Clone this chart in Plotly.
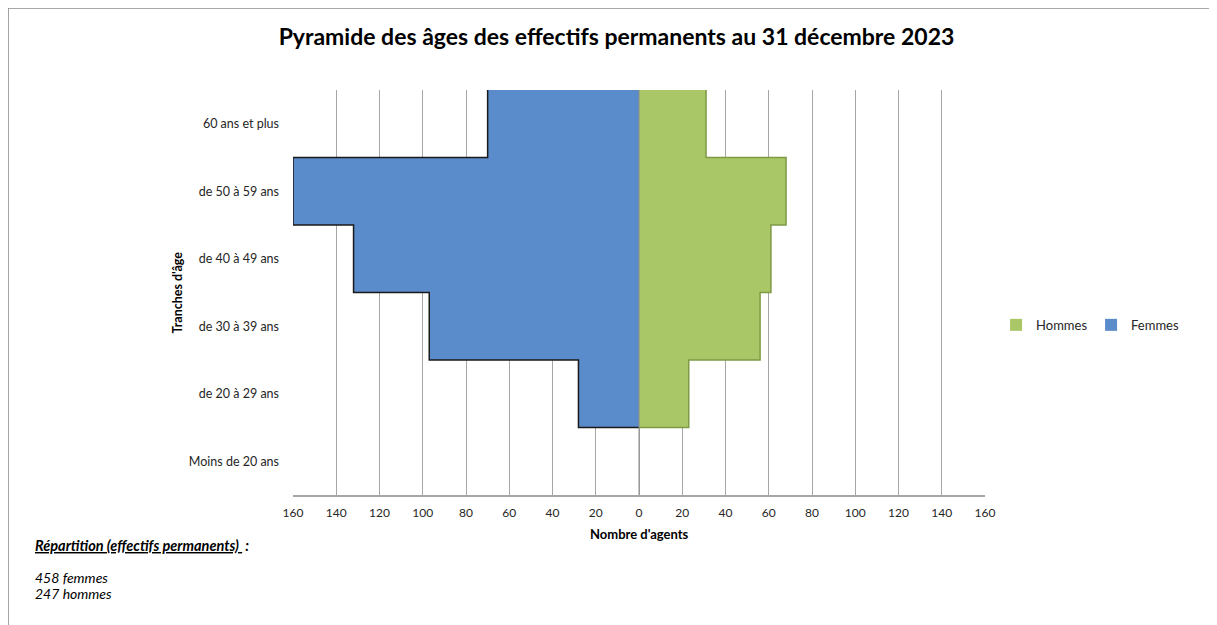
import plotly.graph_objects as go

# Données
tranches = ["Moins de 20 ans", "de 20 à 29 ans", "de 30 à 39 ans",
            "de 40 à 49 ans", "de 50 à 59 ans", "60 ans et plus"]
femmes = [0, 28, 97, 132, 160, 70]
hommes = [0, 23, 56, 61, 68, 31]
x_ticks = list(range(-160, 161, 20))
x_labels = [str(abs(v)) for v in x_ticks]

font_main = "Lato, 'Open Sans', sans-serif"
pos = list(range(len(tranches)))


def outline(values, sign):
    # contour en escalier du côté extérieur des barres
    first = next(i for i, v in enumerate(values) if v > 0)
    xs, ys = [0], [first - 0.5]
    for i in range(first, len(values)):
        xs += [sign * values[i], sign * values[i]]
        ys += [i - 0.5, i + 0.5]
    return xs, ys


fig = go.Figure()
fig.add_trace(go.Bar(y=pos, x=hommes, orientation="h", name="Hommes",
                     marker=dict(color="#A9C766", line_width=0)))
fig.add_trace(go.Bar(y=pos, x=[-v for v in femmes], orientation="h", name="Femmes",
                     marker=dict(color="#5A8BCA", line_width=0)))

hx, hy = outline(hommes, 1)
fig.add_trace(go.Scatter(x=hx, y=hy, mode="lines", showlegend=False, hoverinfo="skip",
                         line=dict(color="#7E9A45", width=1.5)))
fx, fy = outline(femmes, -1)
fig.add_trace(go.Scatter(x=fx, y=fy, mode="lines", showlegend=False, hoverinfo="skip",
                         line=dict(color="#1A1A1A", width=1.5)))

fig.update_layout(
    width=1217, height=625,
    margin=dict(l=285, r=240, t=82, b=138, autoexpand=False),
    paper_bgcolor="white", plot_bgcolor="white",
    barmode="overlay", bargap=0,
    font=dict(family=font_main, size=12, color="#262626"),
    title=dict(text="<b>Pyramide des âges des effectifs permanents au 31 décembre 2023</b>",
               x=0.5, xanchor="center", y=0.953, yanchor="middle",
               font=dict(family=font_main, size=23, color="#000000")),
    legend=dict(orientation="h", x=1.016, y=0.42, xanchor="left", yanchor="middle",
                entrywidth=50, font=dict(size=13, color="#262626"),
                itemwidth=30, traceorder="normal"),
    showlegend=True,
)

fig.update_xaxes(range=[-160, 160], tickvals=x_ticks, ticktext=x_labels,
                 showgrid=True, gridcolor="#A6A6A6", gridwidth=1,
                 zeroline=False, showline=True, linecolor="#A6A6A6", linewidth=1.5,
                 ticks="", ticklen=0, ticklabelstandoff=6, tickfont=dict(size=12),
                 automargin=False)
fig.update_yaxes(range=[-0.5, 5.5], tickvals=pos, ticktext=tranches,
                 showgrid=False, zeroline=False, showline=False,
                 ticks="", ticklabelstandoff=13, tickfont=dict(size=12.5), automargin=False)

# axe des catégories au zéro
fig.add_shape(type="line", xref="x", yref="y", x0=0, x1=0, y0=-0.5, y1=5.5,
              line=dict(color="#8C8C8C", width=1), layer="above")

# cadre du graphique
fig.add_shape(type="rect", xref="paper", yref="paper",
              x0=-0.4118, x1=1.36, y0=-0.36, y1=1.2025,
              line=dict(color="#8C8C8C", width=1.5), layer="below")

fig.add_annotation(text="<b>Nombre d'agents</b>", xref="paper", yref="paper",
                   x=0.5, y=-0.096, xanchor="center", yanchor="middle",
                   showarrow=False, font=dict(size=13, color="#000000"))
fig.add_annotation(text="<b>Tranches d'âge</b>", xref="paper", yref="paper",
                   x=-0.1676, y=0.5, xanchor="center", yanchor="middle", textangle=-90,
                   showarrow=False, font=dict(size=12.5, color="#000000"))
fig.add_annotation(text="<b><i><u>Répartition (effectifs permanents) </u> :</i></b>",
                   xref="paper", yref="paper", x=-0.3757, y=-0.1235,
                   xanchor="left", yanchor="middle", showarrow=False,
                   font=dict(size=14.5, color="#000000"))
fig.add_annotation(text="<i>458 femmes</i>",
                   xref="paper", yref="paper", x=-0.3757, y=-0.2025,
                   xanchor="left", yanchor="middle", showarrow=False,
                   font=dict(size=14, color="#000000"))
fig.add_annotation(text="<i>247 hommes</i>",
                   xref="paper", yref="paper", x=-0.3757, y=-0.242,
                   xanchor="left", yanchor="middle", showarrow=False,
                   font=dict(size=14, color="#000000"))

fig.write_html("out.html")
